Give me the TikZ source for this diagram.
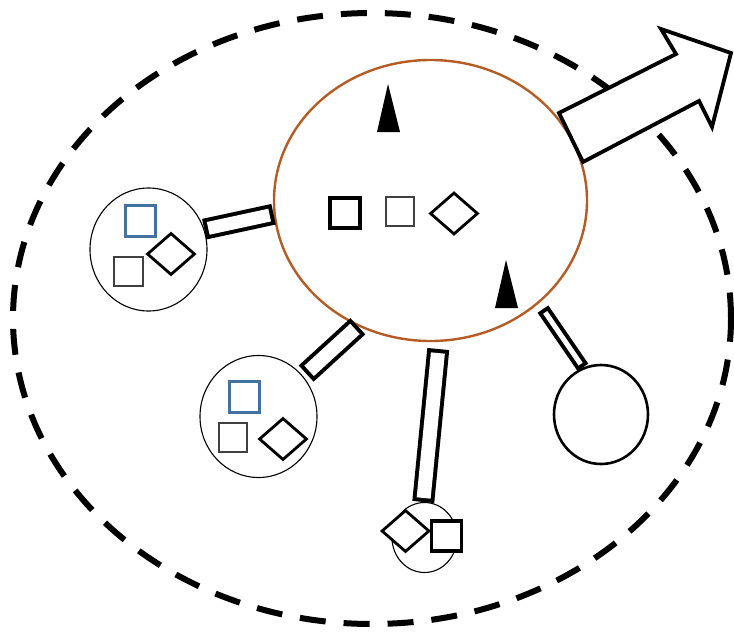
\documentclass[tikz,border=0pt]{standalone}
\usetikzlibrary{shapes.geometric}
\usetikzlibrary{calc}
\definecolor{hubbrown}{RGB}{180,92,36}
\definecolor{tagblue}{RGB}{68,114,160}
\tikzstyle{outer} = [ellipse,
draw=black,
line width=6pt,
dash pattern=on 26pt off 18pt,
minimum width=718pt,
minimum height=611pt,
inner sep=0pt]
\tikzstyle{hub} = [ellipse,
draw=hubbrown,
line width=2.4pt,
minimum width=313pt,
minimum height=281pt,
inner sep=0pt]
\tikzstyle{bubble} = [ellipse,
draw=black,
line width=1.1pt,
inner sep=0pt]
\tikzstyle{sq} = [rectangle, draw=black, fill=white, line width=3.2pt, minimum size=30pt, inner sep=0pt]
\tikzstyle{gsq} = [rectangle, draw=black!75, fill=white, line width=1.8pt, minimum size=28.5pt, inner sep=0pt]
\tikzstyle{bsq} = [rectangle, draw=tagblue, fill=white, line width=2.8pt, minimum size=30.5pt, inner sep=0pt]
\tikzstyle{dia} = [diamond, draw=black, fill=white, line width=2.8pt, minimum width=48pt, minimum height=42pt, inner sep=0pt]
\newcommand{\linkbar}[3]{%
  \draw [line width=#3] (#1) -- (#2);
  \draw [white, line width=#3-8pt, shorten <=4pt, shorten >=4pt] (#1) -- (#2);}

\begin{document}
\begin{tikzpicture}[x=1pt, y=-1pt]
\useasboundingbox (0,0) rectangle (734,632);

\node (cell) [outer] at (372,318.5) {};
\node (hub_cell) [hub] at (430.5,200.5) {};

\node (sat_a) [bubble, minimum width=117pt, minimum height=123pt] at (148.5,249.5) {};
\node (sat_b) [bubble, minimum width=117pt, minimum height=122pt] at (258.5,416.5) {};
\node (sat_c) [bubble, minimum width=65pt, minimum height=70pt] at (424.5,537.5) {};
\node (sat_d) [bubble, line width=2.6pt, minimum width=94pt, minimum height=99pt] at (601,414.5) {};

% links to the hub
\coordinate (b_end) at ($(sat_b.42)!-4pt!(sat_b)$);
\coordinate (c_end) at ($(hub_cell.273)!-7pt!(hub_cell)$);
\coordinate (d_end) at ($(hub_cell.316)!-7pt!(hub_cell)$);
\linkbar{sat_a.20}{hub_cell.185}{21pt}
\linkbar{b_end}{hub_cell.240}{22pt}
\linkbar{sat_c.92}{c_end}{22pt}
\linkbar{d_end}{sat_d.111}{13pt}

% hub contents
\fill (388,84) -- (400,132) -- (377,132) -- cycle;
\fill (506,260) -- (518,308) -- (495,308) -- cycle;
\node (h_sq) [sq] at (345,213) {};
\node (h_gsq) [gsq] at (400,211.5) {};
\node (h_dia) [dia] at (454,213.5) {};

% satellites
\node (a_bsq) [bsq] at (140.5,221) {};
\node (a_gsq) [gsq] at (128.5,271.5) {};
\node (a_dia) [dia] at (171,254) {};

\node (b_bsq) [bsq] at (244.5,397) {};
\node (b_gsq) [gsq] at (233,437.5) {};
\node (b_dia) [dia] at (283,439) {};

\node (c_dia) [dia] at (405.5,531) {};
\node (c_sq) [sq] at (446.5,536) {};

% way out
\draw [line width=3.8pt, fill=white] (583,162) -- (559,113) -- (676,54) -- (661,29) -- (731,53) -- (712,127) -- (699,101) -- cycle;

\end{tikzpicture}
\end{document}
